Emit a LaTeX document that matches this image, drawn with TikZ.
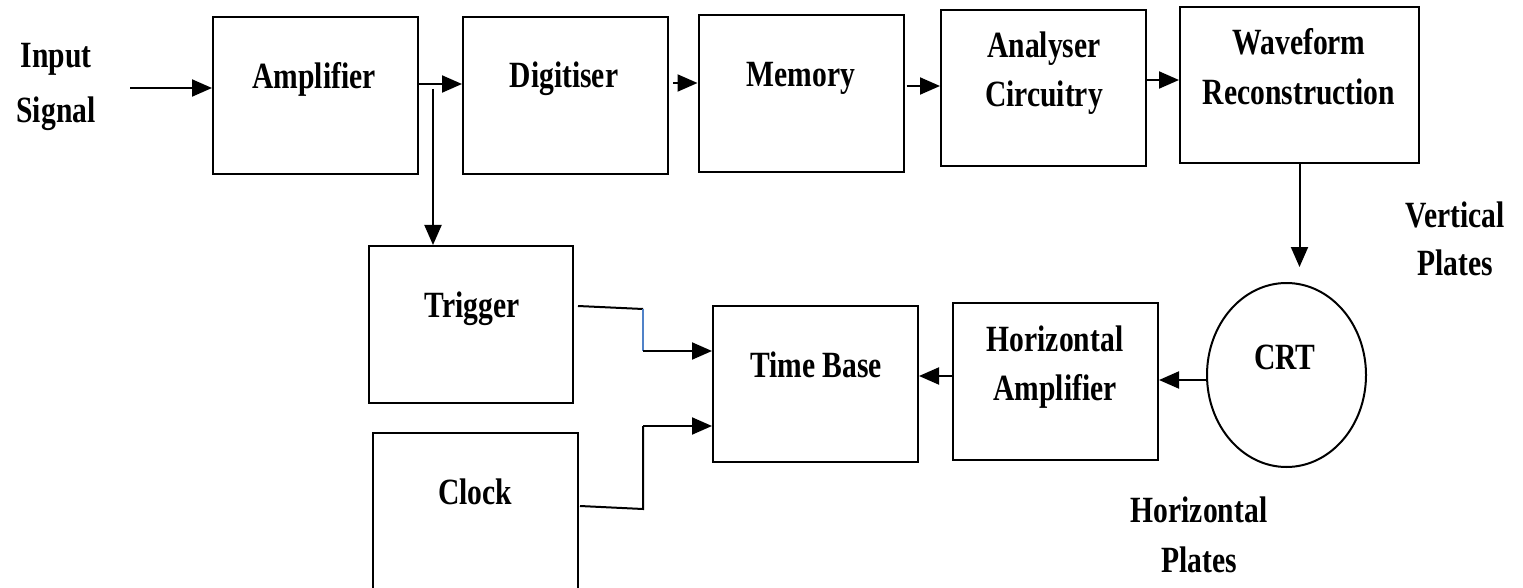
\documentclass[tikz,border=0pt]{standalone}
\usepackage{fontspec}
\setmainfont{Liberation Serif}[FakeStretch=0.8]
\usetikzlibrary{arrows.meta,shapes.geometric}

\begin{document}
\begin{tikzpicture}[x=1pt,y=-1pt,
  blk/.style={draw, line width=2pt, inner sep=0pt},
  txt/.style={anchor=base, inner sep=0pt, font=\fontsize{37}{49}\selectfont\bfseries},
  wire/.style={line width=2pt},
  bluewire/.style={line width=1.2pt, draw={rgb,255:red,80;green,130;blue,200}},
  arr/.style={line width=2pt, -{Triangle[length=20pt,width=17pt]}}
]
\useasboundingbox (0,0) rectangle (1523,588);
\clip (0,0) rectangle (1523,588);

% blocks of the acquisition chain
\node[blk, minimum width=205pt, minimum height=157pt] (amp) at (315.5,95.5) {};
\node[blk, minimum width=205pt, minimum height=157pt] (dig) at (565.5,95.5) {};
\node[blk, minimum width=205pt, minimum height=157pt] (mem) at (801,93.5) {};
\node[blk, minimum width=205pt, minimum height=156pt] (ana) at (1043.5,88) {};
\node[blk, minimum width=239pt, minimum height=156pt] (wav) at (1299.5,85) {};

% timing and display blocks
\node[blk, minimum width=204pt, minimum height=157pt] (trig) at (471,324.5) {};
\node[blk, minimum width=205pt, minimum height=190pt] (clk) at (475.5,528) {};
\node[blk, minimum width=205pt, minimum height=156pt] (tb) at (815.5,384) {};
\node[blk, minimum width=205pt, minimum height=157pt] (ha) at (1055.5,381.5) {};
\node[blk, ellipse, minimum width=159pt, minimum height=184pt] (crt) at (1286.5,375) {};

% block captions
\node[txt] (amp-t) at (314,89) {Amplifier};
\node[txt] (dig-t) at (564,88) {Digitiser};
\node[txt] (mem-t) at (801,87) {Memory};
\node[txt] (ana-t1) at (1044,58) {Analyser};
\node[txt] (ana-t2) at (1044,107) {Circuitry};
\node[txt] (wav-t1) at (1299,55) {Waveform};
\node[txt] (wav-t2) at (1299,105) {Reconstruction};
\node[txt] (trig-t) at (472,317) {Trigger};
\node[txt] (clk-t) at (475,504) {Clock};
\node[txt] (tb-t) at (816,377) {Time Base};
\node[txt] (ha-t1) at (1055,351) {Horizontal};
\node[txt] (ha-t2) at (1055,400) {Amplifier};
\node[txt] (crt-t) at (1285,369) {CRT};

% free labels
\node[txt] (in-t1) at (56,68) {Input};
\node[txt] (in-t2) at (56,123) {Signal};
\node[txt] (vp-t1) at (1455,227) {Vertical};
\node[txt] (vp-t2) at (1455,275) {Plates};
\node[txt] (hp-t1) at (1199,522) {Horizontal};
\node[txt] (hp-t2) at (1199,572) {Plates};

% signal path
\coordinate (in) at (130,88);
\draw[arr] (in) -- (in -| amp.west);
\coordinate (a1) at ([yshift=11.5pt]amp.east);
\draw[arr] (a1) -- (a1 -| dig.west);
\coordinate (br) at (433,89);
\draw[arr] (br) -- (br |- trig.north);
\coordinate (d1) at ([xshift=4pt,yshift=12.5pt]dig.east);
\draw[arr] (d1) -- (d1 -| mem.west);
\coordinate (m1) at ([xshift=2pt,yshift=7.5pt]mem.east);
\draw[arr] (m1) -- (m1 -| ana.west);
\coordinate (n1) at ([yshift=8pt]ana.east);
\draw[arr] (n1) -- (n1 -| wav.west);
\draw[arr] (wav.south) -- ([yshift=15pt]crt.north -| wav.south);
\coordinate (c1) at ([yshift=-5pt]crt.west);
\draw[arr] (c1) -- (c1 -| ha.east);
\coordinate (h1) at ([yshift=5.5pt]ha.west);
\draw[arr] (h1) -- (h1 -| tb.east);

% trigger and clock feeds into the time base
\coordinate (t0) at ([xshift=4pt,yshift=18.5pt]trig.east);
\coordinate (t1) at (643,309);
\coordinate (t2) at (643,351);
\draw[wire] (t0) -- (t1);
\draw[bluewire] (t1) -- (t2);
\draw[arr] (t2) -- (t2 -| tb.west);
\coordinate (k0) at ([xshift=1pt]clk.east |- 0,506);
\coordinate (k1) at (643,509);
\coordinate (k2) at (643,426);
\draw[wire] (k0) -- (k1) -- (k2);
\draw[arr] (k2) -- (k2 -| tb.west);
\end{tikzpicture}
\end{document}
